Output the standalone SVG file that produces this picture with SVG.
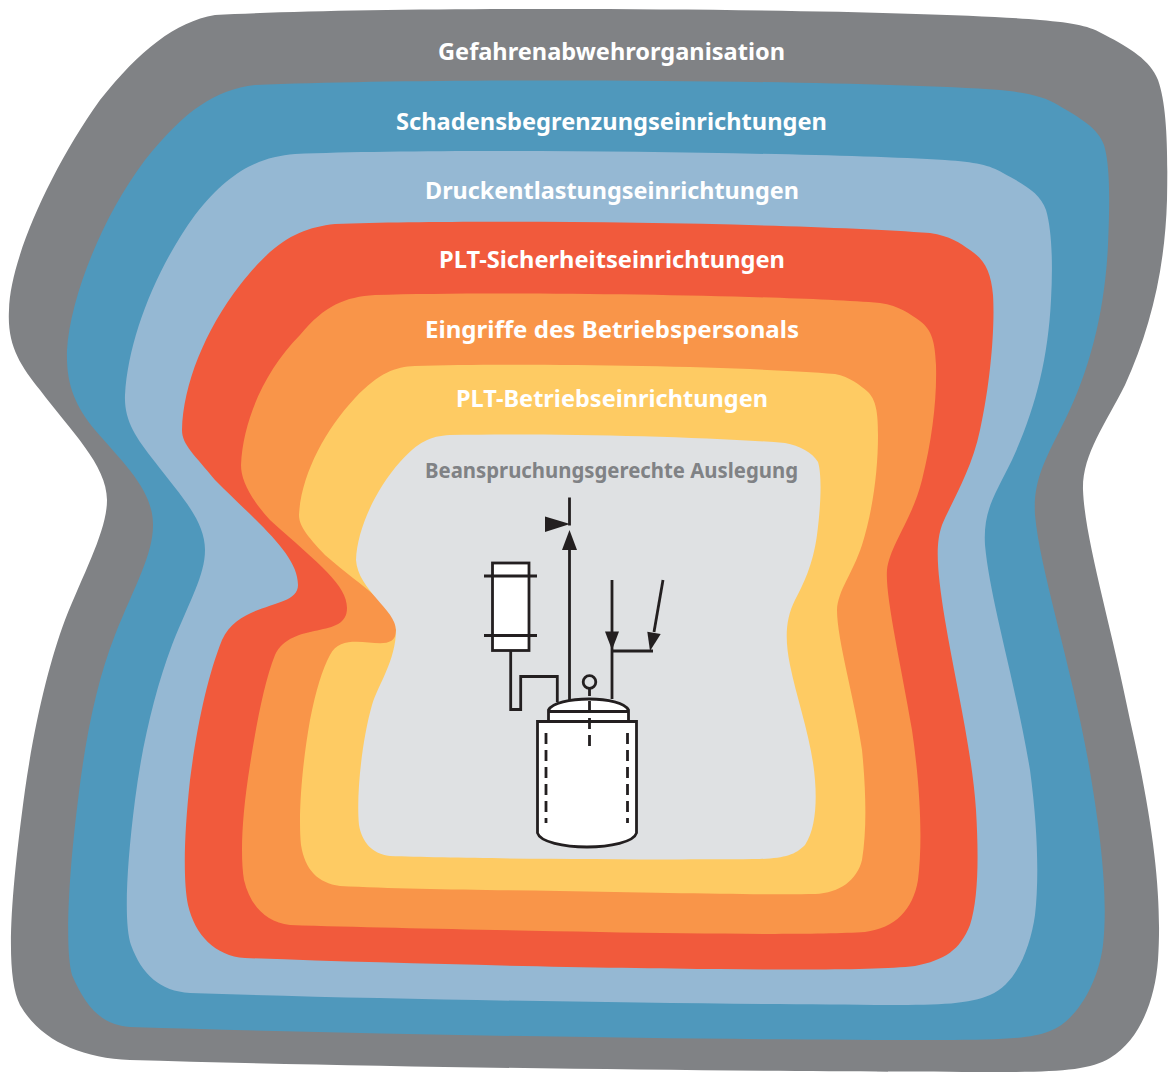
<svg xmlns="http://www.w3.org/2000/svg" width="1173" height="1073" viewBox="0 0 1173 1073">
<style>
.l{font-family:"Noto Sans","Open Sans","Liberation Sans",sans-serif;font-weight:700;font-size:24px;fill:#fff;text-anchor:start}
.d{fill:none;stroke:#231f20;stroke-width:2.8}
.w{fill:#fff;stroke:#231f20;stroke-width:2.8}
.k{fill:#231f20;stroke:none}
.h{fill:none;stroke:#231f20;stroke-width:2.8;stroke-dasharray:11 6}
</style>
<rect width="1173" height="1073" fill="#fff"/>
<g id="layer-gefahrenabwehr">
<path fill="#808285" d="M215,15 C400,5 900,8 1040,20 C1075,23 1090,26 1105,35 C1130,48 1150,60 1158,80 C1167,105 1168,150 1167,200 C1165,270 1150,330 1125,385 C1105,425 1082,455 1083,490 C1085,540 1110,620 1130,720 C1155,830 1162,900 1158,960 C1155,1000 1140,1040 1110,1058 C1090,1070 1060,1072 1000,1072 C800,1072 400,1068 130,1060 C80,1058 40,1040 20,1005 C5,975 10,900 25,790 C35,720 50,660 65,620 C85,570 107,530 107,500 C107,465 70,430 40,390 C20,365 7,345 9,310 C10,260 50,170 100,100 C140,50 175,22 215,15 Z"/>
<text class="l" x="438" y="60" textLength="347" lengthAdjust="spacingAndGlyphs">Gefahrenabwehrorganisation</text>
</g>
<g id="layer-schadensbegrenzung">
<path fill="#4f98bc" d="M255,85 C450,77 850,80 1000,90 C1030,93 1045,97 1058,105 C1080,118 1098,128 1104,145 C1110,165 1110,200 1108,245 C1105,310 1090,370 1065,420 C1045,460 1033,480 1035,515 C1040,570 1070,660 1088,760 C1102,840 1108,900 1103,945 C1098,985 1075,1022 1050,1031 C1030,1039 1000,1040 940,1040 C700,1040 400,1035 130,1027 C100,1025 85,1005 72,975 C65,950 68,880 78,800 C85,740 97,680 115,635 C135,585 153,555 153,525 C153,490 125,465 95,430 C75,405 66,385 67,350 C70,300 100,220 145,160 C185,110 215,90 255,85 Z"/>
<text class="l" x="396" y="130" textLength="431" lengthAdjust="spacingAndGlyphs">Schadensbegrenzungseinrichtungen</text>
</g>
<g id="layer-druckentlastung">
<path fill="#95b8d3" d="M295,154 C450,148 800,152 945,160 C975,162 990,165 1003,173 C1025,185 1040,193 1046,210 C1052,230 1053,265 1051,300 C1048,360 1035,410 1012,460 C995,495 983,510 985,545 C990,600 1015,680 1030,770 C1038,830 1039,880 1035,915 C1030,950 1015,985 990,995 C970,1004 940,1005 890,1005 C700,1004 400,1000 190,993 C160,991 142,975 131,945 C124,925 126,870 135,800 C142,745 155,690 172,645 C190,600 205,575 205,550 C205,520 180,495 155,462 C135,437 124,420 125,395 C128,340 155,270 195,215 C230,170 260,157 295,154 Z"/>
<text class="l" x="425" y="199" textLength="374" lengthAdjust="spacingAndGlyphs">Druckentlastungseinrichtungen</text>
</g>
<g id="layer-plt-sicherheit">
<path fill="#f15a3c" d="M335,224 C480,219 800,223 930,233 C950,236 960,243 970,250 C985,260 991,272 993,295 C995,325 991,380 980,430 C972,470 950,505 942,525 C935,545 937,570 945,620 C955,680 972,750 976,810 C979,860 978,900 970,925 C960,950 945,960 915,966 C880,970 800,970 720,969 C600,968 400,964 245,958 C215,956 195,935 188,905 C183,880 184,835 190,780 C197,725 208,675 222,640 C240,600 298,610 298,585 C298,555 260,525 215,480 C195,455 182,445 182,430 C183,385 205,330 240,285 C275,240 300,228 335,224 Z"/>
<text class="l" x="439" y="268" textLength="346" lengthAdjust="spacingAndGlyphs">PLT-Sicherheitseinrichtungen</text>
</g>
<g id="layer-eingriffe">
<path fill="#f99549" d="M375,295 C500,291 780,295 880,303 C900,306 910,314 920,321 C932,330 935,342 936,365 C937,400 932,440 922,480 C912,520 890,545 887,570 C885,595 900,660 912,730 C920,785 923,840 918,880 C913,910 895,928 865,932 C820,935 700,934 600,932 C500,930 380,928 290,925 C265,922 250,905 244,880 C240,855 242,815 250,765 C257,720 265,680 275,655 C292,620 347,640 347,608 C347,585 320,565 270,520 C250,498 241,480 241,465 C243,420 265,370 300,335 C325,305 345,297 375,295 Z"/>
<text class="l" x="425" y="338" textLength="374" lengthAdjust="spacingAndGlyphs">Eingriffe des Betriebspersonals</text>
</g>
<g id="layer-plt-betrieb">
<path fill="#fecb63" d="M415,366 C520,363 740,366 835,374 C850,377 860,385 868,392 C876,400 878,412 878,435 C878,470 873,510 862,545 C852,575 838,590 837,610 C837,640 855,700 862,750 C866,790 867,830 862,860 C857,880 840,893 815,894 C770,895 660,893 560,891 C480,890 400,889 340,886 C318,883 305,870 301,845 C298,815 302,765 310,720 C316,690 322,670 330,655 C345,625 396,660 396,630 C396,605 365,590 325,555 C306,535 299,525 299,515 C301,475 325,430 355,398 C380,372 395,367 415,366 Z"/>
<text class="l" x="456" y="407" textLength="312" lengthAdjust="spacingAndGlyphs">PLT-Betriebseinrichtungen</text>
</g>
<g id="layer-auslegung">
<path fill="#dfe1e3" d="M450,435 C540,433 700,436 785,443 C800,446 812,452 818,462 C822,475 821,505 817,535 C813,565 803,585 795,600 C785,620 785,640 790,665 C797,700 812,740 815,780 C817,805 815,830 805,845 C795,855 785,858 760,859 C680,860 470,859 390,856 C372,854 362,842 359,825 C356,795 362,740 372,705 C378,685 396,660 396,630 C396,610 358,590 356,560 C357,530 375,490 400,462 C418,442 430,436 450,435 Z"/>
<text class="l" x="425" y="478" textLength="373" lengthAdjust="spacingAndGlyphs" style="fill:#808285;font-size:22px">Beanspruchungsgerechte Auslegung</text>
</g>
<g id="actuator">
<rect class="w" x="492.5" y="563" width="36.5" height="87.5"/>
<path class="d" d="M484,576 H537 M484,635.500 H537"/>
</g>
<g id="vessel">
<path class="w" d="M537.500,721.500 H636.500 V833 C634,842 610,847 587,847 C564,847 540,842 537.500,833 Z"/>
<path class="w" d="M548.500,721.500 V710 C552,703 570,699 589,699 C608,699 625,703 628.500,710 V721.500 Z"/>
<path class="d" d="M548.500,711.500 H628.500"/>
<path class="h" d="M546,733 V823 M627.500,733 V823"/>
</g>
<g id="sensor">
<circle class="d" cx="589.500" cy="682" r="6.300"/>
<path class="d" d="M589.500,688 V696"/>
<path class="h" d="M589.500,701 V746"/>
</g>
<g id="connectors">
<path class="d" d="M510.700,650 V709.500 H520.700 V676.500 H557.300 V702"/>
<path class="d" d="M569.500,700 V545"/>
<path class="k" d="M569.500,530 L577,550 H562 Z"/>
<path class="d" d="M569.500,497.500 V525.500"/>
<path class="k" d="M545,516.500 L570,524 L545,532 Z"/>
<path class="d" d="M612,580 V699"/>
<path class="k" d="M612,650 L605,631.500 H619 Z"/>
<path class="d" d="M612,651 H653"/>
<path class="d" d="M663,580 L654,632"/>
<path class="k" d="M650,651 L647.300,631.700 L660.700,634 Z"/>
</g>
</svg>
